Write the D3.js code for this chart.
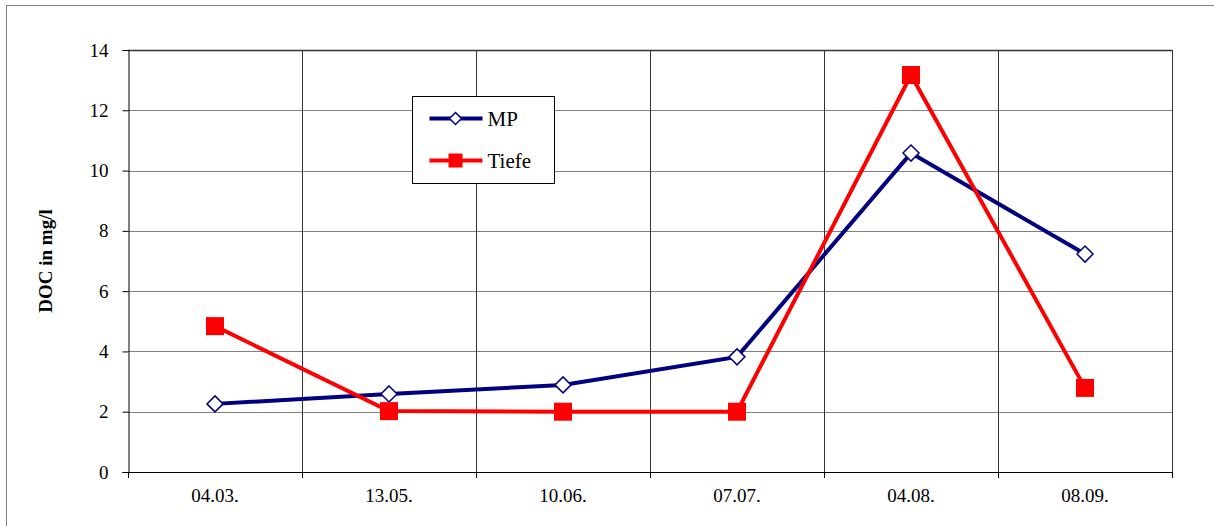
<!DOCTYPE html>
<html>
<head>
<meta charset="utf-8">
<script src="https://cdn.jsdelivr.net/npm/d3@7"></script>
<style>
  svg text { font-family: 'Liberation Serif' !important; }
</style>
</head>
<body style="margin:0;background:#fff">
<div id="chart"></div>
<script>
const dates = ["04.03.", "13.05.", "10.06.", "07.07.", "04.08.", "08.09."];
const mpValues = [2.26, 2.59, 2.89, 3.82, 10.58, 7.23];
const tiefeValues = [4.84, 2.02, 2.0, 2.0, 13.17, 2.79];
const yTicks = [0, 2, 4, 6, 8, 10, 12, 14];

const serif = "'Liberation Serif'";
const width = 1214, height = 526;
const margin = {top: 50, right: 42, bottom: 54, left: 128};

const svg = d3.select("#chart").append("svg")
    .attr("width", width)
    .attr("height", height);

// outer chart frame
svg.append("rect")
    .attr("x", 6.5).attr("y", 5.5)
    .attr("width", 1230).attr("height", 540)
    .attr("fill", "none")
    .attr("stroke", "#808080");

const x = d3.scaleBand()
    .domain(dates)
    .range([margin.left, width - margin.right]);

const y = d3.scaleLinear()
    .domain([0, 14])
    .range([height - margin.bottom, margin.top]);

const edges = d3.range(dates.length + 1).map(i => Math.round(x.range()[0] + x.step() * i) + 0.5);

// horizontal grid
svg.append("g").selectAll("line")
    .data(yTicks.slice(1))
    .join("line")
    .attr("x1", margin.left).attr("x2", width - margin.right)
    .attr("y1", d => Math.round(y(d)) + 0.5).attr("y2", d => Math.round(y(d)) + 0.5)
    .attr("stroke", d => d === 14 ? "#333" : "#808080")
    .attr("stroke-width", d => d === 14 ? 1.5 : 1);

// vertical grid at band boundaries
svg.append("g").selectAll("line")
    .data(edges.slice(1))
    .join("line")
    .attr("x1", d => d).attr("x2", d => d)
    .attr("y1", margin.top).attr("y2", height - margin.bottom)
    .attr("stroke", "#333");

// y axis
const yAxis = svg.append("g")
    .attr("transform", `translate(${margin.left + 0.5},0)`)
    .call(d3.axisLeft(y).tickValues(yTicks).tickSize(6).tickPadding(14).tickFormat(d3.format("d")))
    .attr("font-family", serif).attr("font-size", 19);
yAxis.select(".domain").attr("stroke", "#000");
yAxis.selectAll("text").attr("fill", "#000");

// x axis
const xAxis = svg.append("g")
    .attr("transform", `translate(0,${height - margin.bottom + 0.5})`)
    .call(d3.axisBottom(x).tickSize(0).tickPadding(16))
    .attr("font-family", serif).attr("font-size", 19);
xAxis.select(".domain").remove();
xAxis.selectAll("text").attr("fill", "#000");
svg.append("line")
    .attr("x1", margin.left).attr("x2", width - margin.right)
    .attr("y1", height - margin.bottom + 0.5).attr("y2", height - margin.bottom + 0.5)
    .attr("stroke", "#000");
// x tick marks at band boundaries
svg.append("g").selectAll("line")
    .data(edges)
    .join("line")
    .attr("x1", d => d).attr("x2", d => d)
    .attr("y1", height - margin.bottom).attr("y2", height - margin.bottom + 6)
    .attr("stroke", "#000");

// y axis title
svg.append("text")
    .attr("transform", `translate(52,${(margin.top + height - margin.bottom) / 2}) rotate(-90)`)
    .attr("text-anchor", "middle")
    .attr("font-family", serif)
    .attr("font-size", 19)
    .attr("font-weight", "bold")
    .text("DOC in mg/l");

const cx = d => x(d) + x.bandwidth() / 2;
const line = d3.line().x(d => cx(d.date)).y(d => y(d.value));

const mpData = dates.map((d, i) => ({date: d, value: mpValues[i]}));
const tiefeData = dates.map((d, i) => ({date: d, value: tiefeValues[i]}));

svg.append("path").datum(mpData)
    .attr("d", line).attr("fill", "none")
    .attr("stroke", "#000080").attr("stroke-width", 4);
svg.append("path").datum(tiefeData)
    .attr("d", line).attr("fill", "none")
    .attr("stroke", "#ff0000").attr("stroke-width", 4);

const diamond = s => `M0,${-s}L${s},0L0,${s}L${-s},0Z`;

svg.append("g").selectAll("path")
    .data(mpData)
    .join("path")
    .attr("transform", d => `translate(${cx(d.date)},${y(d.value)})`)
    .attr("d", diamond(8))
    .attr("fill", "#fff")
    .attr("stroke", "#000080")
    .attr("stroke-width", 1.5);

svg.append("g").selectAll("rect")
    .data(tiefeData)
    .join("rect")
    .attr("x", d => cx(d.date) - 9)
    .attr("y", d => y(d.value) - 9)
    .attr("width", 18).attr("height", 18)
    .attr("fill", "#ff0000");

// legend
const legend = svg.append("g").attr("transform", "translate(412.5,96.5)");
legend.append("rect")
    .attr("width", 142).attr("height", 87)
    .attr("fill", "#fff").attr("stroke", "#000");
const legendItems = [
  {name: "MP", color: "#000080", y: 22},
  {name: "Tiefe", color: "#ff0000", y: 64}
];
legendItems.forEach(it => {
  legend.append("line")
      .attr("x1", 17).attr("x2", 70)
      .attr("y1", it.y).attr("y2", it.y)
      .attr("stroke", it.color).attr("stroke-width", 4);
  if (it.name === "MP") {
    legend.append("path")
        .attr("transform", `translate(43,${it.y})`)
        .attr("d", diamond(6))
        .attr("fill", "#fff").attr("stroke", it.color).attr("stroke-width", 1.5);
  } else {
    legend.append("rect")
        .attr("x", 36).attr("y", it.y - 7)
        .attr("width", 14).attr("height", 14)
        .attr("fill", it.color);
  }
  legend.append("text")
      .attr("x", 75).attr("y", it.y + 7)
      .attr("font-family", serif)
      .attr("font-size", 21)
      .text(it.name);
});
</script>
</body>
</html>
